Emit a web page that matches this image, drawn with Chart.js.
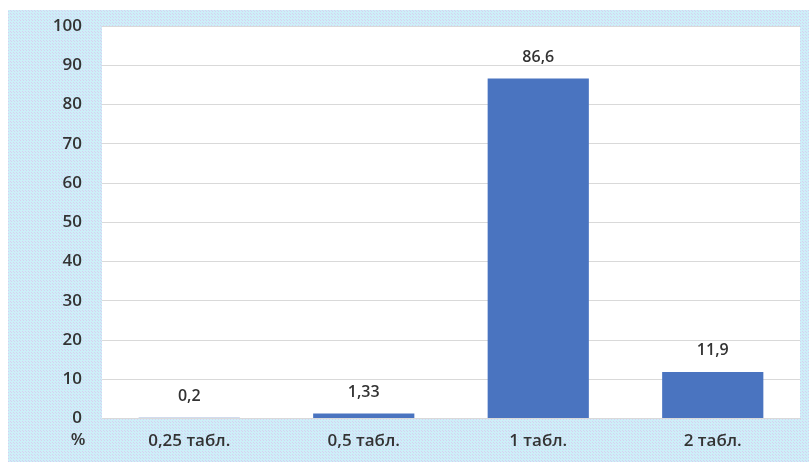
<!DOCTYPE html>
<html>
<head>
<meta charset="utf-8">
<script src="https://cdn.jsdelivr.net/npm/chart.js@4.4.1/dist/chart.umd.min.js"></script>
<style>
html,body{margin:0;padding:0;background:#fff;}
#wrap{width:809px;height:466px;position:relative;}
</style>
</head>
<body>
<div id="wrap"><canvas id="c" width="809" height="466"></canvas></div>
<script>
const categories = ["0,25 табл.", "0,5 табл.", "1 табл.", "2 табл."];
const values = [0.2, 1.33, 86.6, 11.9];
const valueLabels = ["0,2", "1,33", "86,6", "11,9"];
const yTicks = [0, 10, 20, 30, 40, 50, 60, 70, 80, 90, 100];
const unitLabel = "%";

const FONT = "'Open Sans', 'DejaVu Sans', sans-serif";
const TEXT = "#333333";

function makePattern(ctx) {
  const p = document.createElement('canvas');
  p.width = 3; p.height = 3;
  const g = p.getContext('2d');
  g.fillStyle = '#cdeff8';
  g.fillRect(0, 0, 3, 3);
  g.fillStyle = '#d6d0f0';
  g.fillRect(1, 1, 1, 1);
  g.fillRect(2, 2, 1, 1);
  return ctx.createPattern(p, 'repeat');
}

const bgPlugin = {
  id: 'bg',
  beforeDraw(chart) {
    const ctx = chart.ctx, a = chart.chartArea;
    ctx.save();
    ctx.fillStyle = '#ffffff';
    ctx.fillRect(0, 0, chart.width, chart.height);
    ctx.fillStyle = makePattern(ctx);
    ctx.fillRect(8, 10, chart.width - 8, 452);
    ctx.fillStyle = '#ffffff';
    ctx.fillRect(a.left, a.top, a.right - a.left, a.bottom - a.top);
    ctx.restore();
  },
  afterDatasetsDraw(chart) {
    const ctx = chart.ctx;
    const meta = chart.getDatasetMeta(0);
    ctx.save();
    ctx.font = "600 16px " + FONT;
    ctx.fillStyle = TEXT;
    ctx.textAlign = 'center';
    ctx.textBaseline = 'middle';
    meta.data.forEach((bar, i) => {
      ctx.fillText(valueLabels[i], bar.x, bar.y - 21);
    });
    ctx.font = "600 17px " + FONT;
    ctx.fillText(unitLabel, 78, 440);
    ctx.restore();
  }
};

new Chart(document.getElementById('c'), {
  type: 'bar',
  data: {
    labels: categories,
    datasets: [{
      data: values,
      backgroundColor: '#4a74c0',
      borderWidth: 0,
      barPercentage: 0.58,
      categoryPercentage: 1.0
    }]
  },
  options: {
    responsive: false,
    animation: false,
    devicePixelRatio: 1,
    layout: { padding: { left: 0, right: 9, top: 26, bottom: 3 } },
    plugins: { legend: { display: false }, tooltip: { enabled: false } },
    scales: {
      x: {
        grid: { display: false, drawTicks: false },
        border: { display: true, color: '#d9d9d9', width: 1 },
        ticks: { color: TEXT, font: { family: FONT, size: 17, weight: '600' }, padding: 12 }
      },
      y: {
        min: 0, max: 100,
        afterBuildTicks(scale) { scale.ticks = yTicks.map(v => ({ value: v })); },
        afterFit(scale) { scale.width = 102; scale.paddingTop = 0; scale.paddingBottom = 0; },
        grid: { color: '#d9d9d9', drawTicks: false },
        border: { display: false },
        ticks: { color: TEXT, font: { family: FONT, size: 17, weight: '600' }, padding: 20 }
      }
    }
  },
  plugins: [bgPlugin]
});
</script>
</body>
</html>
